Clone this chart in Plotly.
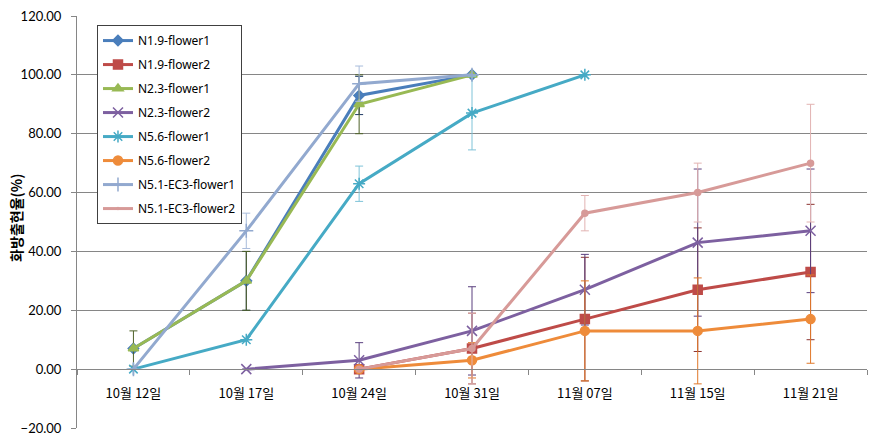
import plotly.graph_objects as go

dates = ["10월 12일", "10월 17일", "10월 24일", "10월 31일", "11월 07일", "11월 15일", "11월 21일"]

names = ["N1.9-flower1", "N1.9-flower2", "N2.3-flower1", "N2.3-flower2",
         "N5.6-flower1", "N5.6-flower2", "N5.1-EC3-flower1", "N5.1-EC3-flower2"]

n19_f1 = [7, 30, 93, 100, None, None, None]
n19_f2 = [None, None, 0, 7, 17, 27, 33]
n23_f1 = [7, 30, 90, 100, None, None, None]
n23_f2 = [None, 0, 3, 13, 27, 43, 47]
n56_f1 = [0, 10, 63, 87, 100, None, None]
n56_f2 = [None, None, 0, 3, 13, 13, 17]
n51_f1 = [0, 47, 97, 100, None, None, None]
n51_f2 = [None, None, 0, 7, 53, 60, 70]

err_n19_f1 = [None, 10, 6.5, None, None, None, None]
err_n19_f2 = [None, None, None, 12, 21, 21, 23]
err_n23_f1 = [6, 10, 10, None, None, None, None]
err_n23_f2 = [None, None, 6, 15, 12, 25, 21]
err_n56_f1 = [None, None, 6, 12.5, None, None, None]
err_n56_f2 = [None, None, None, 6, 17, 18, 15]
err_n51_f1 = [None, 6, 6, None, None, None, None]
err_n51_f2 = [None, None, None, 12, 6, 10, 20]

y_title = "화방출현율(%)"

series = [n19_f1, n19_f2, n23_f1, n23_f2, n56_f1, n56_f2, n51_f1, n51_f2]
errors = [err_n19_f1, err_n19_f2, err_n23_f1, err_n23_f2, err_n56_f1, err_n56_f2, err_n51_f1, err_n51_f2]

line_colors = ["#4A7EBB", "#BE4B48", "#98B954", "#7D60A0", "#46AAC5", "#EE8B3A", "#92A9CF", "#D79A98"]
err_colors = ["#1F3A63", "#8C3431", "#4F6228", "#5A3F7E", "#7FC3D8", "#E0782A", "#A9BCDB", "#E2B3B2"]
symbols = ["diamond", "square", "triangle-up", "x-thin-open", "asterisk-open", "circle", "cross-thin-open", "circle"]
msizes = [8, 9, 9, 10, 10, 9, 10, 0]

fig = go.Figure()
for i, nm in enumerate(names):
    fig.add_trace(go.Scatter(
        x=dates, y=series[i], name=nm, mode="lines+markers",
        legendgroup=nm,
        line=dict(color=line_colors[i], width=3),
        marker=dict(symbol=symbols[i], size=msizes[i], color=line_colors[i],
                    line=dict(color=line_colors[i], width=1.5)),
        error_y=dict(type="data", array=errors[i], visible=True,
                     color=err_colors[i], thickness=1, width=4),
        connectgaps=False,
    ))

fig.add_annotation(
    text="<b>" + y_title + "</b>", textangle=-90,
    xref="paper", yref="paper", x=0, y=0.51, xanchor="center", yanchor="middle",
    xshift=-61, showarrow=False,
    font=dict(family="'Noto Sans CJK KR', sans-serif", size=14, color="black"),
)

fig.update_layout(
    width=891, height=444,
    margin=dict(l=77, r=24, t=16, b=16, autoexpand=False),
    paper_bgcolor="white", plot_bgcolor="white",
    font=dict(family="Lato, 'Noto Sans CJK KR', sans-serif", size=13, color="black"),
    showlegend=True,
    legend=dict(
        x=0.0253, y=0.978, xanchor="left", yanchor="top",
        bgcolor="white", bordercolor="#404040", borderwidth=1,
        font=dict(family="'Noto Sans', sans-serif", size=12, color="black"),
        tracegroupgap=5,
        traceorder="grouped",
        itemwidth=30,
    ),
    xaxis=dict(
        type="category", range=[-0.5, 6.5], automargin=False,
        anchor="free", position=20 / 140,
        showline=True, linecolor="#868686", linewidth=1,
        ticks="outside", tickson="boundaries", ticklen=5, tickcolor="#868686",
        showgrid=False, zeroline=False,
        tickfont=dict(family="'Noto Sans CJK KR', sans-serif", size=13, color="black"),
        ticklabelstandoff=12,
    ),
    yaxis=dict(
        range=[-20, 120], dtick=20, tick0=-20, tickformat=".2f", automargin=False,
        showline=True, linecolor="#868686", linewidth=1,
        ticks="outside", ticklen=5, tickcolor="#868686",
        showgrid=True, gridcolor="#868686", gridwidth=1,
        zeroline=False,
        tickfont=dict(family="Lato, sans-serif", size=13, color="black"),
        ticklabelstandoff=7,
    ),
)

fig.write_html("out.html")
